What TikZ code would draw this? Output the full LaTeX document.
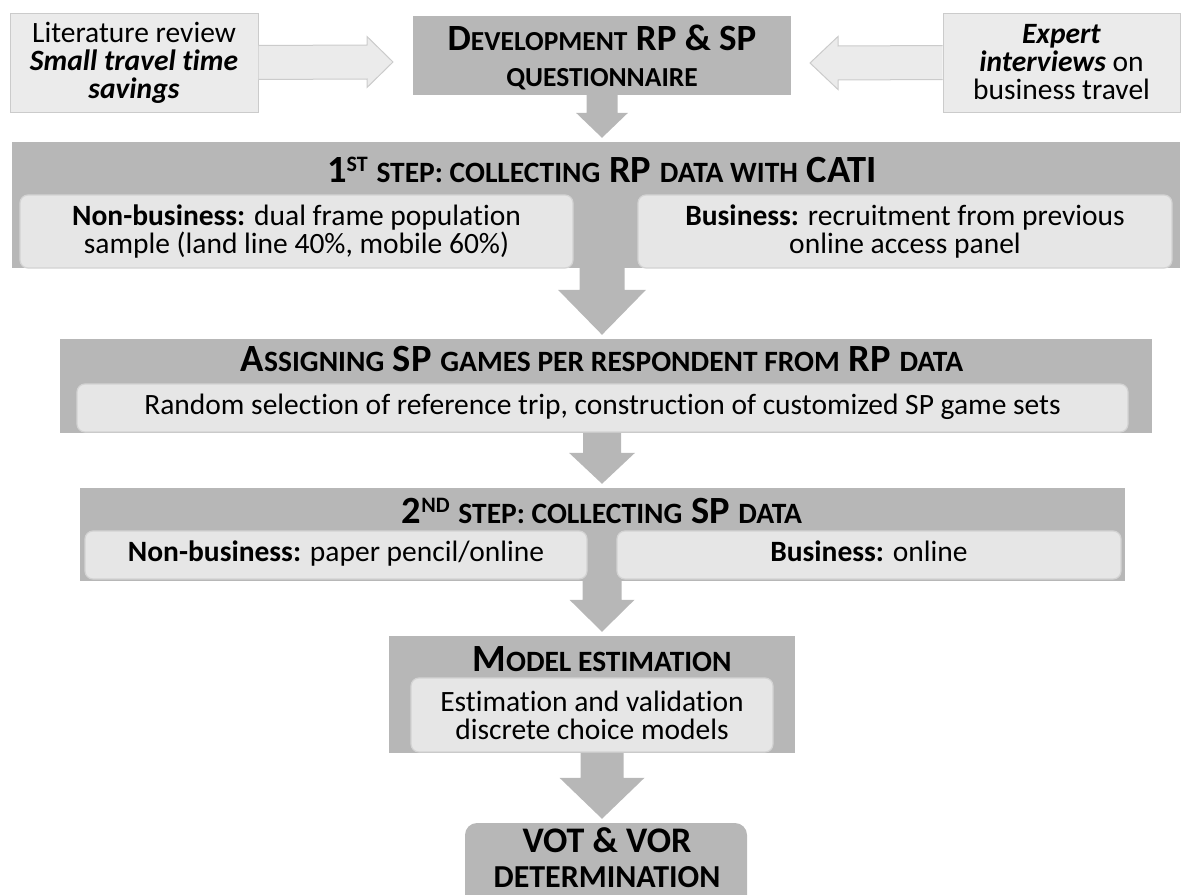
\documentclass[tikz,border=0pt]{standalone}
\usepackage{fontspec}
\setmainfont{Carlito}[Ligatures=CommonOff]
\usetikzlibrary{calc,positioning}

\definecolor{boxgray}{HTML}{B7B7B7}
\definecolor{innergray}{HTML}{E6E6E6}
\definecolor{innerline}{HTML}{D3D3D3}
\definecolor{sidegray}{HTML}{EBEBEB}
\definecolor{sideline}{HTML}{CBCBCB}

% fake small capitals for the titles
\newcommand{\smcsz}{27.5}
\newcommand{\smc}[1]{{\fontsize{\smcsz}{\smcsz}\selectfont #1}}
\newcommand{\supr}[1]{\raisebox{11pt}{\fontsize{22}{22}\selectfont #1}}

% fat arrow pointing down: from node, to node, half shaft, half head, head length
\newcommand{\flowarrow}[5]{%
  \fill[flowarrow] ($(#1.south -| axis)+(-#3,0)$) -- ($(#2.north -| axis)+(-#3,-4-#5)$)
    -- ($(#2.north -| axis)+(-#4,-4-#5)$) -- ($(#2.north -| axis)+(0,-4)$)
    -- ($(#2.north -| axis)+(#4,-4-#5)$) -- ($(#2.north -| axis)+(#3,-4-#5)$)
    -- ($(#1.south -| axis)+(#3,0)$) -- cycle;}

% side arrow: from anchor, tip coordinate, half shaft, half head, offset tip -> head base
\newcommand{\sidearrow}[5]{%
  \filldraw[sidearrow] ($(#1)+(0,-#3)$) -- ($(#2)+(#5,-#3)$) -- ($(#2)+(#5,-#4)$)
    -- (#2) -- ($(#2)+(#5,#4)$) -- ($(#2)+(#5,#3)$) -- ($(#1)+(0,#3)$);}

\tikzset{
  mainbox/.style={fill=boxgray, inner sep=0pt},
  innerbox/.style={fill=innergray, draw=innerline, line width=1.2pt, rounded corners=8pt,
    inner sep=0pt, align=center, font=\fontsize{29.5}{28}\selectfont},
  oneline/.style={text height=19pt, text depth=6pt},
  sidebox/.style={fill=sidegray, draw=sideline, line width=1pt, inner sep=0pt,
    align=center, font=\fontsize{29.5}{28}\selectfont},
  titletext/.style={inner sep=0pt, align=center,
    font=\bfseries\fontsize{37}{38}\selectfont},
  steptitle/.style={titletext,
    font=\bfseries\fontsize{38.5}{38}\selectfont\renewcommand{\smcsz}{29.5}},
  flowarrow/.style={fill=boxgray},
  sidearrow/.style={fill=sidegray, draw=sideline, line width=1pt, line join=miter},
}

\begin{document}
\begin{tikzpicture}[x=1pt, y=-1pt]
        \useasboundingbox (0,0) rectangle (1188,894);
        \clip (0,0) rectangle (1188,894);
        \coordinate (axis) at (602,0);

        % --- Top row: questionnaire and its two sources ---
        \node[mainbox, minimum width=378pt, minimum height=79pt] (dev) at (602,55.5) {};
        \node[titletext] (devtxt) at (602,57) {D\smc{EVELOPMENT} RP \& SP\\[-2pt]\smc{QUESTIONNAIRE}};

        \node[sidebox, minimum width=248pt, minimum height=99pt] (lit) at (134,62.5)
            {Literature review\\\textbf{\textit{Small travel time}}\\\textbf{\textit{savings}}};
        \node[sidebox, minimum width=237pt, minimum height=99pt] (exp) at (1061.5,62.5)
            {\textbf{\textit{Expert}}\\\textbf{\textit{interviews}} on\\business travel};

        \coordinate (littip) at (393,62);
        \coordinate (exptip) at (810,63);
        \sidearrow{lit.east}{littip}{17}{25.5}{-26}
        \sidearrow{exp.west}{exptip}{17}{26.5}{28}

        % --- First step: RP data ---
        \node[mainbox, minimum width=1168pt, minimum height=126pt] (step1) at (596,205) {};
        \node[steptitle] (step1txt) at (602,170)
            {1\supr{ST} \smc{STEP: COLLECTING} RP \smc{DATA WITH} CATI};
        \node[innerbox, minimum width=553pt, minimum height=73pt] (nonbus1) at (296.5,231.5)
            {\textbf{Non-business:} dual frame population\\sample (land line 40\%, mobile 60\%)};
        \node[innerbox, minimum width=534pt, minimum height=73pt] (bus1) at (905,231.5)
            {\textbf{Business:} recruitment from previous\\online access panel};

        % --- Assigning SP games ---
        \node[mainbox, minimum width=1092pt, minimum height=94pt] (assign) at (606,386) {};
        \node[steptitle] (assigntxt) at (602,359)
            {A\smc{SSIGNING} SP \smc{GAMES PER RESPONDENT FROM} RP \smc{DATA}};
        \node[innerbox, oneline, minimum width=1051pt, minimum height=48pt] (random) at (602.5,408)
            {Random selection of reference trip, construction of customized SP game sets};

        % --- Second step: SP data ---
        \node[mainbox, minimum width=1045pt, minimum height=93pt] (step2) at (602.5,534.5) {};
        \node[steptitle] (step2txt) at (602,511)
            {2\supr{ND} \smc{STEP: COLLECTING} SP \smc{DATA}};
        \node[innerbox, oneline, minimum width=502pt, minimum height=48pt] (nonbus2) at (336,555)
            {\textbf{Non-business:} paper pencil/online};
        \node[innerbox, oneline, minimum width=504pt, minimum height=48pt] (bus2) at (869,555)
            {\textbf{Business:} online};

        % --- Model estimation ---
        \node[mainbox, minimum width=406pt, minimum height=117pt] (model) at (592,694.5) {};
        \node[steptitle] (modeltxt) at (602,659) {M\smc{ODEL ESTIMATION}};
        \node[innerbox, minimum width=362pt, minimum height=74pt] (estim) at (592,715)
            {Estimation and validation\\discrete choice models};

        % --- Result (cut by the lower edge) ---
        \node[mainbox, rounded corners=12pt, minimum width=282pt, minimum height=90pt] (vot) at (606,868) {};
        \node[titletext, font=\bfseries\fontsize{36}{35}\selectfont] (vottxt) at (607,858)
            {VOT \& VOR\\{\fontsize{32}{32}\selectfont DETERMINATION}};

        % --- Arrows between the stages ---
        \flowarrow{dev}{step1}{15.5}{26}{25}
        \flowarrow{step1}{assign}{22.5}{44}{45}
        \flowarrow{assign}{step2}{19}{33}{31}
        \flowarrow{step2}{model}{19.5}{32.5}{32}
        \flowarrow{model}{vot}{21.5}{42.5}{41}

    \end{tikzpicture}
\end{document}
